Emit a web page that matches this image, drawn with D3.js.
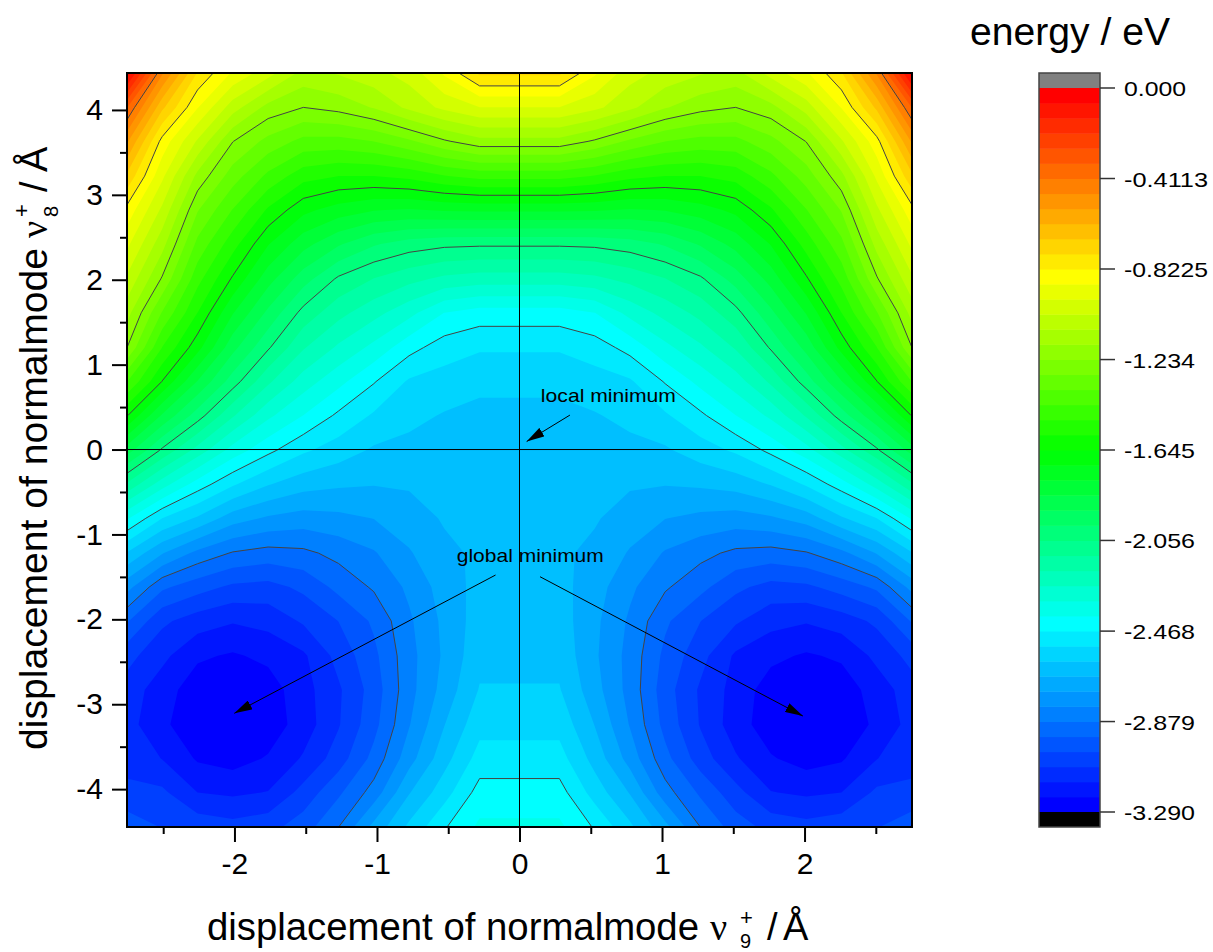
<!DOCTYPE html>
<html>
<head>
<meta charset="utf-8">
<script src="https://cdn.jsdelivr.net/npm/d3@7"></script>
<style>
  body { margin: 0; background: #fff; }
  text { font-family: "Liberation Sans", Arial, sans-serif; fill: #000; }
</style>
</head>
<body>
<div id="container"></div>
<script>
// positive half of the normalmode 9 grid, the surface is mirrored around 0
const xHalf = [0.28, 0.527, 0.775, 1.022, 1.27, 1.517, 1.764, 2.012, 2.259, 2.507, 2.754];
const yGrid = [4.435, 4.03, 3.63, 3.22, 2.82, 2.42, 2.01, 1.61, 1.2, 0.8, 0.4, -0.01,
  -0.41, -0.81, -1.22, -1.62, -2.02, -2.43, -2.83, -3.24, -3.64, -4.04, -4.446];

// energy in eV, one list per x column, top row first
const energyColumns = [
  [-0.74, -0.96, -1.19, -1.484, -1.77, -2.045, -2.226, -2.43, -2.528, -2.586, -2.625, -2.65, -2.66, -2.66, -2.66, -2.65, -2.64, -2.625, -2.6, -2.56, -2.508, -2.44, -2.385],
  [-0.88, -1.01, -1.244, -1.513, -1.775, -2.04, -2.21, -2.4, -2.503, -2.565, -2.61, -2.624, -2.645, -2.666, -2.69, -2.71, -2.725, -2.73, -2.715, -2.675, -2.63, -2.565, -2.475],
  [-1.0, -1.08, -1.315, -1.557, -1.789, -2.02, -2.172, -2.308, -2.444, -2.545, -2.585, -2.626, -2.665, -2.706, -2.748, -2.796, -2.822, -2.835, -2.835, -2.815, -2.77, -2.678, -2.59],
  [-1.05, -1.16, -1.37, -1.578, -1.779, -1.98, -2.127, -2.238, -2.35, -2.463, -2.545, -2.615, -2.67, -2.74, -2.817, -2.87, -2.935, -2.965, -2.985, -2.97, -2.925, -2.85, -2.72],
  [-1.09, -1.21, -1.396, -1.577, -1.745, -1.91, -2.068, -2.171, -2.274, -2.378, -2.482, -2.57, -2.663, -2.76, -2.858, -2.927, -3.015, -3.06, -3.095, -3.09, -3.05, -2.96, -2.88],
  [-1.12, -1.234, -1.392, -1.55, -1.695, -1.825, -1.957, -2.08, -2.187, -2.295, -2.4, -2.525, -2.645, -2.772, -2.895, -3.0, -3.075, -3.165, -3.18, -3.19, -3.145, -3.06, -2.98],
  [-1.0, -1.19, -1.324, -1.457, -1.587, -1.709, -1.823, -1.935, -2.047, -2.18, -2.315, -2.45, -2.6, -2.752, -2.906, -3.04, -3.13, -3.205, -3.255, -3.26, -3.215, -3.15, -3.04],
  [-0.9, -1.065, -1.232, -1.338, -1.443, -1.548, -1.655, -1.777, -1.898, -2.022, -2.185, -2.36, -2.527, -2.71, -2.885, -3.03, -3.147, -3.23, -3.27, -3.275, -3.25, -3.165, -3.06],
  [-0.76, -0.887, -1.037, -1.186, -1.297, -1.39, -1.484, -1.577, -1.689, -1.855, -2.022, -2.222, -2.431, -2.615, -2.83, -2.987, -3.12, -3.21, -3.26, -3.26, -3.23, -3.153, -3.04],
  [-0.47, -0.67, -0.847, -0.945, -1.043, -1.14, -1.242, -1.376, -1.51, -1.648, -1.86, -2.07, -2.3, -2.536, -2.737, -2.934, -3.07, -3.135, -3.19, -3.21, -3.155, -3.07, -3.02],
  [-0.03, -0.34, -0.537, -0.7, -0.845, -0.943, -1.04, -1.138, -1.234, -1.437, -1.64, -1.887, -2.137, -2.39, -2.61, -2.785, -2.94, -3.06, -3.115, -3.125, -3.105, -3.07, -2.97]
];

const colorbarTicks = [0, -0.4113, -0.8225, -1.234, -1.645, -2.056, -2.468, -2.879, -3.29];
const colorbarLabels = ['0.000', '-0.4113', '-0.8225', '-1.234', '-1.645', '-2.056', '-2.468', '-2.879', '-3.290'];
const bandCount = 48;
const xTicks = [-2, -1, 0, 1, 2];
const xMinor = [-2.5, -1.5, -0.5, 0.5, 1.5, 2.5];
const yTicks = [-4, -3, -2, -1, 0, 1, 2, 3, 4];
const yMinor = [-3.5, -2.5, -1.5, -0.5, 0.5, 1.5, 2.5, 3.5];

// labels and arrows, in axis units
const notes = [
  { text: 'local minimum', x: 0.15, y: 0.565, length: 135 },
  { text: 'global minimum', x: -0.44, y: -1.325, length: 147 }
];
const arrows = [
  { x1: 0.354, y1: 0.406, x2: 0.05, y2: 0.094 },
  { x1: -0.168, y1: -1.478, x2: -2.001, y2: -3.107 },
  { x1: 0.144, y1: -1.498, x2: 1.989, y2: -3.139 }
];

const width = 1213, height = 952;
const plot = { left: 127, right: 912, top: 73, bottom: 827 };
const bar = { left: 1039, right: 1100, top: 73, bottom: 827 };

const svg = d3.select('#container').append('svg')
  .attr('width', width).attr('height', height)
  .style('display', 'block');

const x = d3.scaleLinear().domain([-2.754, 2.754]).range([plot.left, plot.right]);
const y = d3.scaleLinear().domain([-4.446, 4.435]).range([plot.bottom, plot.top]);

// mirror the half grid
const xGrid = xHalf.slice().reverse().map(d => -d).concat(xHalf);
const columns = energyColumns.slice().reverse().concat(energyColumns);
const nx = xGrid.length, ny = yGrid.length;
const values = [];
for (let j = 0; j < ny; j++) {
  for (let i = 0; i < nx; i++) values.push(columns[i][j]);
}

// grid index -> axis units, d3.contours puts cell centers at index + 0.5
const colToX = d3.scaleLinear().domain(d3.range(nx)).range(xGrid);
const rowToY = d3.scaleLinear().domain(d3.range(ny)).range(yGrid);
const toPixels = d3.geoTransform({
  point(c, r) { this.stream.point(x(colToX(c - 0.5)), y(rowToY(r - 0.5))); }
});
const path = d3.geoPath(toPixels);

// colours of the 48 bands, 0 is the lowest
const bandColor = d3.scaleLinear()
  .domain([0, 12, 23.5, 35, 47])
  .range(['#0000ff', '#00ffff', '#00ff00', '#ffff00', '#ff0000']);
const eMin = -3.29, eStep = 3.29 / bandCount;
const thresholds = d3.range(bandCount).map(i => eMin + i * eStep);

svg.append('clipPath').attr('id', 'plot-clip')
  .append('rect')
  .attr('x', plot.left).attr('y', plot.top)
  .attr('width', plot.right - plot.left).attr('height', plot.bottom - plot.top);

const area = svg.append('g').attr('clip-path', 'url(#plot-clip)');

area.append('rect')
  .attr('x', plot.left).attr('y', plot.top)
  .attr('width', plot.right - plot.left).attr('height', plot.bottom - plot.top)
  .attr('fill', bandColor(0));

const contours = d3.contours().size([nx, ny]).smooth(true);

area.selectAll('path.band')
  .data(thresholds)
  .enter().append('path')
  .attr('class', 'band')
  .attr('d', t => path(contours.contour(values, t)))
  .attr('fill', (t, i) => bandColor(i));

// contour lines sit on the colour scale ticks
const lineLevels = colorbarTicks.slice(1, -1);
area.selectAll('path.level')
  .data(lineLevels)
  .enter().append('path')
  .attr('class', 'level')
  .attr('d', t => path(contours.contour(values, t)))
  .attr('fill', 'none')
  .attr('stroke', '#444')
  .attr('stroke-width', 1);

// cross through the origin
svg.append('line')
  .attr('x1', x(0)).attr('x2', x(0)).attr('y1', plot.top).attr('y2', plot.bottom)
  .attr('stroke', '#000').attr('stroke-width', 1);
svg.append('line')
  .attr('x1', plot.left).attr('x2', plot.right).attr('y1', y(0)).attr('y2', y(0))
  .attr('stroke', '#000').attr('stroke-width', 1);

// frame
svg.append('rect')
  .attr('x', plot.left).attr('y', plot.top)
  .attr('width', plot.right - plot.left).attr('height', plot.bottom - plot.top)
  .attr('fill', 'none').attr('stroke', '#000').attr('stroke-width', 2);

// axes
function styleAxis(g) {
  g.select('.domain').remove();
  g.selectAll('.tick line').attr('stroke', '#000').attr('stroke-width', 2);
  g.selectAll('.tick text').attr('font-size', 30).style('font-family', '"Liberation Sans", Arial, sans-serif');
}
svg.append('g')
  .attr('transform', `translate(0,${plot.bottom})`)
  .call(d3.axisBottom(x).tickValues(xTicks).tickFormat(d => String(d)).tickSize(15).tickPadding(11))
  .call(styleAxis);
svg.append('g')
  .attr('transform', `translate(0,${plot.bottom})`)
  .call(d3.axisBottom(x).tickValues(xMinor).tickFormat('').tickSize(7))
  .call(styleAxis);
svg.append('g')
  .attr('transform', `translate(${plot.left},0)`)
  .call(d3.axisLeft(y).tickValues(yTicks).tickFormat(d => String(d)).tickSize(15).tickPadding(9))
  .call(styleAxis);
svg.append('g')
  .attr('transform', `translate(${plot.left},0)`)
  .call(d3.axisLeft(y).tickValues(yMinor).tickFormat('').tickSize(7))
  .call(styleAxis);

// arrows and their labels
const defs = svg.append('defs');
defs.append('marker')
  .attr('id', 'arrowhead')
  .attr('viewBox', '0 0 18 10')
  .attr('refX', 18).attr('refY', 5)
  .attr('markerWidth', 18).attr('markerHeight', 10)
  .attr('markerUnits', 'userSpaceOnUse')
  .attr('orient', 'auto')
  .append('path').attr('d', 'M0,0L18,5L0,10Z').attr('fill', '#000');

svg.selectAll('line.arrow')
  .data(arrows)
  .enter().append('line')
  .attr('class', 'arrow')
  .attr('x1', d => x(d.x1)).attr('y1', d => y(d.y1))
  .attr('x2', d => x(d.x2)).attr('y2', d => y(d.y2))
  .attr('stroke', '#000').attr('stroke-width', 1)
  .attr('marker-end', 'url(#arrowhead)');

svg.selectAll('text.note')
  .data(notes)
  .enter().append('text')
  .attr('class', 'note')
  .attr('x', d => x(d.x)).attr('y', d => y(d.y))
  .attr('font-size', 19)
  .attr('textLength', d => d.length)
  .attr('lengthAdjust', 'spacingAndGlyphs')
  .text(d => d.text);

// colour scale
const barY = d3.scaleLinear().domain([eMin, 0]).range([812, 88]);
svg.append('g').selectAll('rect')
  .data(thresholds)
  .enter().append('rect')
  .attr('x', bar.left).attr('width', bar.right - bar.left)
  .attr('y', t => barY(t + eStep))
  .attr('height', t => barY(t) - barY(t + eStep) + 0.5)
  .attr('fill', (t, i) => bandColor(i));
svg.append('rect')
  .attr('x', bar.left).attr('width', bar.right - bar.left)
  .attr('y', bar.top).attr('height', barY(0) - bar.top)
  .attr('fill', '#808080');
svg.append('rect')
  .attr('x', bar.left).attr('width', bar.right - bar.left)
  .attr('y', barY(eMin)).attr('height', bar.bottom - barY(eMin))
  .attr('fill', '#000');
svg.append('rect')
  .attr('x', bar.left).attr('width', bar.right - bar.left)
  .attr('y', bar.top).attr('height', bar.bottom - bar.top)
  .attr('fill', 'none').attr('stroke', '#444').attr('stroke-width', 1.5);

const barAxis = svg.append('g').selectAll('g')
  .data(colorbarTicks)
  .enter().append('g')
  .attr('transform', d => `translate(${bar.right},${barY(d)})`);
barAxis.append('line')
  .attr('x2', 15).attr('stroke', '#333').attr('stroke-width', 1.5);
barAxis.append('text')
  .attr('x', 24).attr('y', 8)
  .attr('font-size', 21)
  .attr('textLength', (d, i) => colorbarLabels[i].length === 7 ? 84 : (colorbarLabels[i].length === 6 ? 71 : 62))
  .attr('lengthAdjust', 'spacingAndGlyphs')
  .text((d, i) => colorbarLabels[i]);

svg.append('text')
  .attr('x', 970).attr('y', 45)
  .attr('font-size', 38)
  .attr('textLength', 200)
  .attr('lengthAdjust', 'spacingAndGlyphs')
  .text('energy / eV');

// axis titles, the mode symbol is put together by hand
function modeTitle(g, index, p) {
  g.append('text').attr('x', 0).attr('y', 0)
    .attr('font-size', 38)
    .attr('textLength', p.main).attr('lengthAdjust', 'spacingAndGlyphs')
    .text('displacement of normalmode');
  g.append('text').attr('x', p.nu).attr('y', 0)
    .attr('font-size', 38)
    .style('font-family', '"Liberation Serif", serif')
    .text('\u03bd');
  g.append('text').attr('x', p.sup).attr('y', p.supY)
    .attr('font-size', 22).text('+');
  g.append('text').attr('x', p.sup).attr('y', p.subY)
    .attr('font-size', 20).text(index);
  g.append('text').attr('x', p.slash).attr('y', 0)
    .attr('font-size', 38).text('/');
  g.append('text').attr('x', p.ring).attr('y', 0)
    .attr('font-size', 38).text('\u00c5');
}
modeTitle(svg.append('g').attr('transform', 'translate(207,940)'), '9',
  { main: 492, nu: 503, sup: 533, supY: -15, subY: 7.5, slash: 560, ring: 576 });
modeTitle(svg.append('g').attr('transform', 'translate(47,750) rotate(-90)'), '8',
  { main: 502, nu: 512, sup: 533, supY: -18, subY: 11, slash: 558, ring: 578 });
</script>
</body>
</html>
